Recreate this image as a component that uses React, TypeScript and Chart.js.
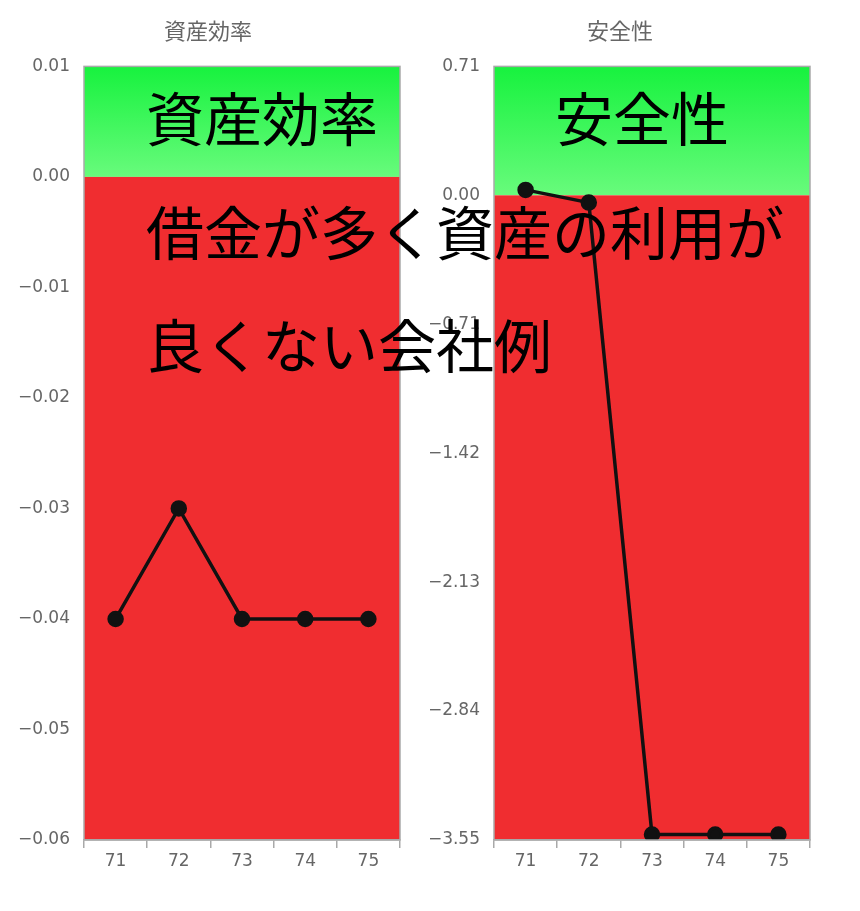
import { useEffect, useRef } from 'react';
import { Chart, registerables } from 'chart.js';
import type { Plugin } from 'chart.js';

Chart.register(...registerables);

const years = ['71', '72', '73', '74', '75'];

const efficiencyTitle = '資産効率';
const efficiencyValues = [-0.04, -0.03, -0.04, -0.04, -0.04];
const efficiencyTicks = [0.01, 0, -0.01, -0.02, -0.03, -0.04, -0.05, -0.06];

const safetyTitle = '安全性';
const safetyValues = [0.03, -0.04, -3.52, -3.52, -3.52];
const safetyTicks = [0.71, 0, -0.71, -1.42, -2.13, -2.84, -3.55];

const captionLines = ['借金が多く資産の利用が', '良くない会社例'];

const GREY = '#666666';
const FRAME = '#a9a9a9';

// green above zero, red below, grey frame round the plot
const zonePlugin: Plugin<'line'> = {
  id: 'zones',
  beforeDraw(chart) {
    const { ctx, chartArea: area, scales } = chart;
    const zero = scales.y.getPixelForValue(0);
    const gradient = ctx.createLinearGradient(0, area.top, 0, zero);
    gradient.addColorStop(0, '#17f23e');
    gradient.addColorStop(1, '#68fb7c');
    ctx.save();
    ctx.fillStyle = gradient;
    ctx.fillRect(area.left, area.top, area.right - area.left, zero - area.top);
    ctx.fillStyle = '#f02d30';
    ctx.fillRect(area.left, zero, area.right - area.left, area.bottom - zero);
    ctx.restore();
  },
  afterDraw(chart) {
    const { ctx, chartArea: area } = chart;
    ctx.save();
    ctx.strokeStyle = FRAME;
    ctx.lineWidth = 1.5;
    ctx.strokeRect(area.left, area.top, area.right - area.left, area.bottom - area.top);
    ctx.restore();
  },
};

function formatTick(value: number | string) {
  const n = Number(value);
  return (n < 0 ? '\u2212' : '') + Math.abs(n).toFixed(2);
}

interface PanelProps {
  title: string;
  values: number[];
  ticks: number[];
  left: number;
  width: number;
  axisWidth: number;
  padRight: number;
}

function Panel({ title, values, ticks, left, width, axisWidth, padRight }: PanelProps) {
  const canvasRef = useRef<HTMLCanvasElement | null>(null);

  useEffect(() => {
    if (!canvasRef.current) return;
    const chart = new Chart(canvasRef.current, {
      type: 'line',
      data: {
        labels: years,
        datasets: [
          {
            data: values,
            borderColor: '#111111',
            borderWidth: 3.5,
            pointBackgroundColor: '#111111',
            pointBorderColor: '#111111',
            pointRadius: 6.5,
            tension: 0,
          },
        ],
      },
      options: {
        animation: false,
        responsive: true,
        maintainAspectRatio: false,
        layout: { padding: { left: 0, right: padRight, top: 0, bottom: 0 } },
        plugins: {
          legend: { display: false },
          tooltip: { enabled: false },
          title: {
            display: true,
            text: title,
            color: GREY,
            font: { family: '"Noto Sans CJK JP", sans-serif', size: 22, weight: 'normal' },
            padding: { top: 17, bottom: 23 },
          },
        },
        scales: {
          x: {
            offset: true,
            grid: {
              display: true,
              offset: true,
              drawOnChartArea: false,
              drawTicks: true,
              tickLength: 8,
              color: FRAME,
              lineWidth: 1.5,
            },
            border: { display: true, color: FRAME, width: 1.5 },
            ticks: { color: GREY, padding: 3, font: { family: '"DejaVu Sans", sans-serif', size: 17 } },
            afterFit: (scale) => {
              scale.height = 50;
            },
          },
          y: {
            min: ticks[ticks.length - 1],
            max: ticks[0],
            grid: { display: false, drawTicks: false },
            border: { display: false },
            ticks: {
              color: GREY,
              padding: 14,
              font: { family: '"DejaVu Sans", sans-serif', size: 17 },
              callback: (value) => formatTick(value),
            },
            afterBuildTicks: (scale) => {
              scale.ticks = ticks.map((value) => ({ value }));
            },
            afterFit: (scale) => {
              scale.width = axisWidth;
            },
          },
        },
      },
      plugins: [zonePlugin],
    });
    return () => chart.destroy();
  }, [title, values, ticks, padRight, axisWidth]);

  return (
    <div style={{ position: 'absolute', left, top: 0, width, height: 890 }}>
      <canvas ref={canvasRef} />
    </div>
  );
}

const bigText: React.CSSProperties = {
  position: 'absolute',
  fontFamily: '"Noto Sans CJK JP", sans-serif',
  fontSize: 58,
  lineHeight: '58px',
  color: '#000000',
  whiteSpace: 'nowrap',
  pointerEvents: 'none',
};

export default function App() {
  return (
    <div style={{ position: 'absolute', left: 0, top: 0, width: 860, height: 911, background: '#ffffff', overflow: 'hidden' }}>
      <Panel title={efficiencyTitle} values={efficiencyValues} ticks={efficiencyTicks} left={16} width={404} axisWidth={68} padRight={20} />
      <Panel title={safetyTitle} values={safetyValues} ticks={safetyTicks} left={430} width={392} axisWidth={64} padRight={12} />
      <div style={{ ...bigText, left: 146, top: 87 }}>{efficiencyTitle}</div>
      <div style={{ ...bigText, left: 555, top: 87 }}>{safetyTitle}</div>
      <div style={{ ...bigText, left: 146, top: 201 }}>{captionLines[0]}</div>
      <div style={{ ...bigText, left: 146, top: 314 }}>{captionLines[1]}</div>
    </div>
  );
}
